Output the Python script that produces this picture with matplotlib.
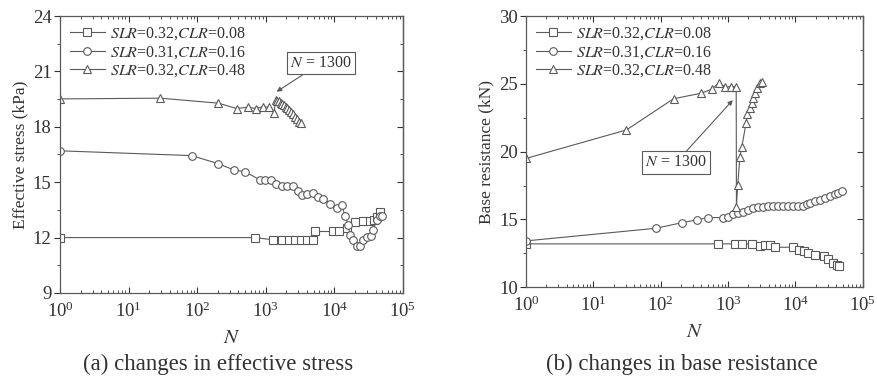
import numpy as np
import matplotlib
matplotlib.use("Agg")
import matplotlib.pyplot as plt
from matplotlib.ticker import MultipleLocator, LogLocator, NullFormatter

plt.rcParams['font.family'] = ['Liberation Serif', 'DejaVu Serif']
plt.rcParams['mathtext.fontset'] = 'stix'

# (a) effective stress (kPa)
sq_a_N = [1, 695, 1290, 1700, 2200, 2700, 3300, 4000, 4900, 5200, 9660, 11800,
          15100, 19900, 26500, 33000, 38000, 42000, 46200]
sq_a_v = [12.0, 12.0, 11.88, 11.88, 11.88, 11.88, 11.88, 11.88, 11.88, 12.33, 12.33,
          12.33, 12.52, 12.82, 12.88, 12.9, 12.95, 13.1, 13.36]

circ_a_N = [1, 83, 204, 340, 500, 822, 975, 1175, 1410, 1700, 2050, 2500, 2970,
            3330, 4030, 4920, 5820, 6900, 8630, 10800, 12800, 14300, 15900, 16900,
            18900, 21600, 23600, 26400, 29500, 33800, 36900, 41300, 46200, 50200]
circ_a_v = [16.70, 16.44, 16.0, 15.67, 15.56, 15.13, 15.13, 15.13, 14.91, 14.77,
            14.77, 14.77, 14.55, 14.32, 14.34, 14.41, 14.19, 14.09, 13.83, 13.6,
            13.78, 13.18, 12.7, 12.16, 11.85, 11.52, 11.52, 11.85, 12.03, 12.1,
            12.39, 12.97, 13.15, 13.18]

tri_a_N = [1, 29, 204, 376, 545, 720, 920, 1100, 1320, 1400, 1480, 1560, 1650, 1750,
           1850, 1950, 2050, 2200, 2350, 2500, 2700, 2900, 3100, 3260]
tri_a_v = [19.51, 19.55, 19.28, 18.99, 19.06, 18.99, 19.09, 19.06, 18.77, 19.46, 19.42,
           19.37, 19.31, 19.24, 19.16, 19.08, 19.0, 18.9, 18.8, 18.69, 18.55, 18.41,
           18.28, 18.2]

# (b) base resistance (kN)
sq_b_N = [1, 720, 1260, 1590, 2240, 2990, 3550, 4210, 4990, 9330, 11470, 13460,
          15600, 19600, 26100, 30900, 36500, 41000, 44900]
sq_b_v = [13.2, 13.2, 13.2, 13.2, 13.2, 13.07, 13.1, 13.1, 12.95, 12.95, 12.76,
          12.68, 12.51, 12.39, 12.32, 12.07, 11.78, 11.66, 11.58]

circ_b_N = [1, 85, 210, 343, 510, 850, 1000, 1200, 1420, 1690, 2000, 2380, 2820,
            3350, 3980, 4710, 5590, 6630, 7870, 9330, 11070, 13130, 14740, 16520,
            19590, 23240, 27590, 32730, 38830, 43500, 48800]
circ_b_v = [13.42, 14.35, 14.77, 14.97, 15.14, 15.14, 15.21, 15.39, 15.5, 15.58,
            15.7, 15.83, 15.9, 15.95, 15.97, 15.98, 15.98, 15.98, 15.98, 15.98, 15.98,
            16.0, 16.15, 16.25, 16.37, 16.47, 16.6, 16.72, 16.84, 16.96, 17.09]

tri_b_N = [1, 31, 155, 393, 572, 740, 900, 1100, 1320, 1330, 1390, 1500, 1600, 1850,
           1940, 2100, 2250, 2380, 2520, 2730, 2990, 3160]
tri_b_v = [19.5, 21.6, 23.9, 24.3, 24.6, 25.09, 24.75, 24.8, 24.8, 15.95, 17.55,
           19.63, 20.37, 22.1, 22.8, 23.2, 23.57, 23.93, 24.3, 24.67, 25.04, 25.16]

labels = [r'$SLR$=0.32,$CLR$=0.08', r'$SLR$=0.31,$CLR$=0.16', r'$SLR$=0.32,$CLR$=0.48']
gray = '#5a5a5a'
txt = '#333333'

fig = plt.figure(figsize=(8.77, 3.81), dpi=100)
ax1 = fig.add_axes([0.0684, 0.231, 0.391, 0.727])
ax2 = fig.add_axes([0.5998, 0.246, 0.384, 0.712])


def draw(ax, series, ylim, ystep, ylabel):
    for (n, v), m, lab in zip(series, ['s', 'o', '^'], labels):
        ax.plot(n, v, color=gray, lw=0.8, marker=m, ms=5.5, mfc='white',
                mec=gray, mew=0.8, label=lab)
    ax.set_xscale('log')
    ax.set_xlim(1, 1e5)
    ax.set_ylim(*ylim)
    ax.yaxis.set_major_locator(MultipleLocator(ystep))
    ax.yaxis.set_minor_locator(MultipleLocator(ystep / 2))
    ax.xaxis.set_major_locator(LogLocator(base=10, numticks=10))
    ax.xaxis.set_minor_locator(LogLocator(base=10, subs=np.arange(2, 10), numticks=10))
    ax.xaxis.set_minor_formatter(NullFormatter())
    ax.tick_params(which='both', top=True, direction='in', colors=txt)
    ax.tick_params(axis='x', labelsize=13.5)
    ax.tick_params(axis='y', which='both', direction='out', right=False,
                   labelsize=13.5, pad=2)
    ax.tick_params(axis='y', which='major', length=4)
    ax.tick_params(axis='x', which='major', length=4, pad=6)
    ax.tick_params(axis='x', which='minor', length=2)
    ax.tick_params(axis='y', which='minor', length=2.5)
    for sp in ax.spines.values():
        sp.set_color(gray)
        sp.set_linewidth(0.9)
    ax.set_xlabel(r'$N$', fontsize=15, color=txt, labelpad=6)
    ax.set_ylabel(ylabel, fontsize=12.5, color=txt, labelpad=3)
    ax.legend(loc='upper left', frameon=False, fontsize=11.5, handlelength=2.2,
              handletextpad=0.3, labelspacing=0.1, borderaxespad=0.2,
              labelcolor=txt)
    # right-hand ticks point inward
    sec = ax.secondary_yaxis('right')
    sec.yaxis.set_major_locator(MultipleLocator(ystep))
    sec.yaxis.set_minor_locator(MultipleLocator(ystep / 2))
    sec.tick_params(which='both', direction='in', labelright=False, colors=txt)
    sec.tick_params(which='major', length=4)
    sec.tick_params(which='minor', length=2.5)
    sec.spines['right'].set_color(gray)
    sec.spines['right'].set_linewidth(0.9)


draw(ax1, [(sq_a_N, sq_a_v), (circ_a_N, circ_a_v), (tri_a_N, tri_a_v)],
     (9, 24), 3, 'Effective stress (kPa)')
draw(ax2, [(sq_b_N, sq_b_v), (circ_b_N, circ_b_v), (tri_b_N, tri_b_v)],
     (10, 30), 5, 'Base resistance (kN)')

bbox = dict(boxstyle='square,pad=0.2', fc='white', ec=gray, lw=0.8)
ax1.annotate(r'$N$ = 1300', xy=(1440, 19.9), xytext=(6350, 21.45),
             fontsize=11.5, color=txt, ha='center', va='center', bbox=bbox,
             arrowprops=dict(arrowstyle='-|>', color=gray, lw=0.8,
                             mutation_scale=7, shrinkA=0, shrinkB=0))
ax2.annotate(r'$N$ = 1300', xy=(1175, 23.8), xytext=(169, 19.2),
             fontsize=11.5, color=txt, ha='center', va='center', bbox=bbox,
             arrowprops=dict(arrowstyle='-|>', color=gray, lw=0.8,
                             mutation_scale=7, shrinkA=0, shrinkB=0))

fig.text(0.249, 0.03, '(a) changes in effective stress', ha='center',
         fontsize=16.5, color=txt)
fig.text(0.778, 0.03, '(b) changes in base resistance', ha='center',
         fontsize=16.5, color=txt)

fig.savefig('out.png', dpi=100)
